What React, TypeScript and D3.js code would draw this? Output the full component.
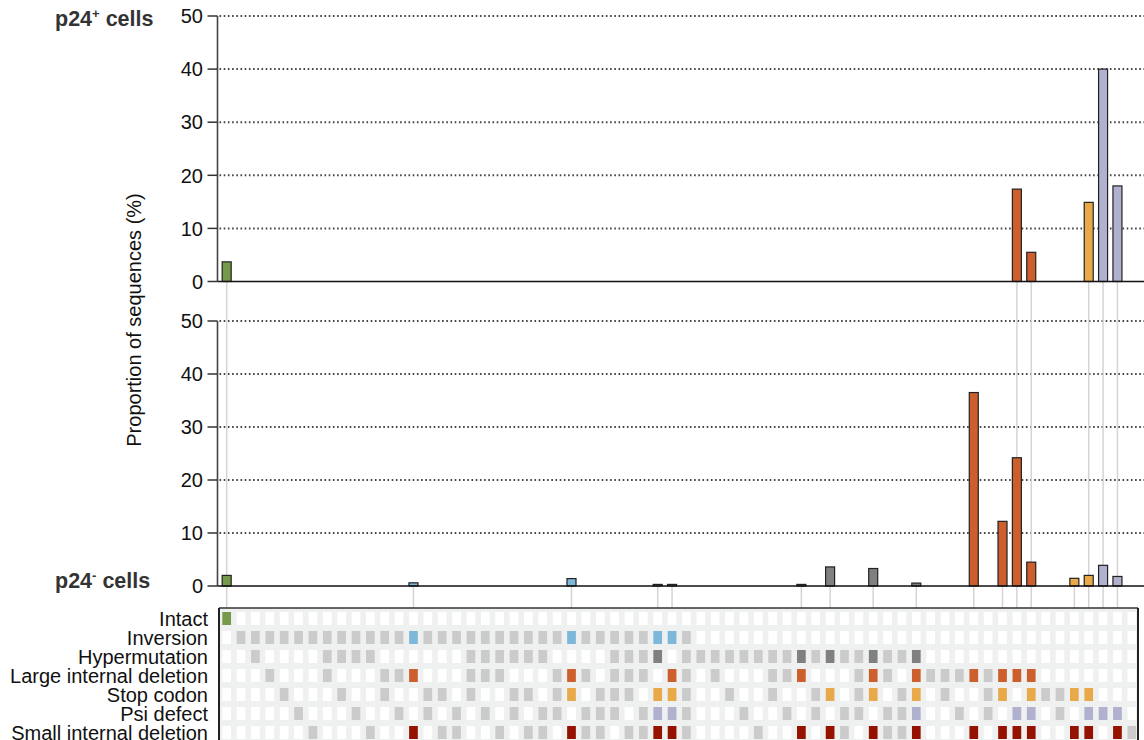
import React from "react";
import * as d3 from "d3";

const rowLabels = [
  "Intact",
  "Inversion",
  "Hypermutation",
  "Large internal deletion",
  "Stop codon",
  "Psi defect",
  "Small internal deletion",
];
const rowColors = ["#76994a", "#7db7d9", "#808080", "#cc5f2d", "#e8a94a", "#b0b1cf", "#951100"];

// 0 = absent (white), 1 = present (grey), 2 = present in highlighted cluster (coloured)
const intactRow = [
  2,0,0,0,0,0,0,0,0,0,0,0,0,0,0,0, 0,0,0,0,0,0,0,0,0,0,0,0,0,0,0,0,
  0,0,0,0,0,0,0,0,0,0,0,0,0,0,0,0, 0,0,0,0,0,0,0,0,0,0,0,0,0,0,0,0,
];
const inversionRow = [
  0,1,1,1,1,1,1,1,1,1,1,1,1,2,1,1, 1,1,1,1,1,1,1,1,2,1,1,1,1,1,2,2,
  1,0,0,0,0,0,0,0,0,0,0,0,0,0,0,0, 0,0,0,0,0,0,0,0,0,0,0,0,0,0,0,0,
];
const hypermutationRow = [
  0,0,1,0,0,0,0,1,1,1,1,0,0,0,0,0, 0,1,1,1,1,1,1,0,0,0,0,1,1,1,2,0,
  1,1,1,1,1,1,1,1,2,1,2,1,1,2,1,1, 2,0,0,0,0,0,0,0,0,0,0,0,0,0,0,0,
];
const largeDeletionRow = [
  0,0,0,1,0,0,0,1,0,0,0,1,1,2,0,0, 0,1,1,1,0,0,0,1,2,1,0,1,1,1,0,2,
  1,0,1,0,0,0,1,1,2,0,0,0,1,2,1,0, 2,1,1,1,2,1,2,2,2,0,0,0,0,0,0,0,
];
const stopCodonRow = [
  0,0,0,0,1,0,0,0,1,0,0,1,0,0,1,1, 0,1,0,0,1,1,0,1,2,0,1,1,1,0,2,2,
  1,0,0,1,0,0,1,0,0,1,2,0,1,2,0,1, 2,0,1,0,0,1,2,0,2,1,1,2,2,0,0,0,
];
const psiDefectRow = [
  0,0,0,0,0,1,0,0,0,1,0,0,1,0,1,0, 1,0,1,0,1,0,1,1,0,1,1,1,0,1,2,2,
  1,0,0,0,1,0,0,1,0,1,0,1,1,0,1,1, 2,0,0,1,0,1,0,2,2,0,1,0,2,2,2,0,
];
const smallDeletionRow = [
  0,0,0,0,0,0,1,0,0,0,1,0,0,2,0,1, 1,0,0,1,0,1,1,0,2,1,1,0,1,1,2,2,
  1,0,0,0,0,1,0,0,2,0,2,1,0,2,1,1, 2,0,0,0,2,0,2,2,2,0,0,2,2,0,2,1,
];
const matrixRows = [intactRow, inversionRow, hypermutationRow, largeDeletionRow, stopCodonRow, psiDefectRow, smallDeletionRow];

const barColumns = [0, 13, 24, 30, 31, 40, 42, 45, 48, 52, 54, 55, 56, 59, 60, 61, 62];
const p24PosValues = [3.7, 0, 0, 0, 0, 0, 0, 0, 0, 0, 0, 17.4, 5.5, 0, 14.9, 40.0, 18.0];
const p24NegValues = [2.0, 0.6, 1.4, 0.3, 0.3, 0.3, 3.6, 3.3, 0.55, 36.5, 12.2, 24.2, 4.5, 1.45, 2.0, 3.9, 1.8];
const yTicks = [0, 10, 20, 30, 40, 50];

const W = 1144;
const H = 740;
const FONT = "'Liberation Sans', Arial, Helvetica, sans-serif";

export default function App() {
  const nCols = intactRow.length;
  const x = d3.scaleBand<number>().domain(d3.range(nCols)).range([219.5, 1139]);
  const step = x.step();
  const cx = (i: number) => (x(i) as number) + step / 2;
  const barW = 9;
  const cellW = 8.7;
  const cellH = 13;
  const rowY = d3.scalePoint<number>().domain(d3.range(7)).range([612, 612 + 19 * 6]);

  const yTop = d3.scaleLinear().domain([0, 50]).range([281.5, 16]);
  const yBot = d3.scaleLinear().domain([0, 50]).range([586, 321]);
  const axisX = 217.5;
  const matTop = 608;

  // bar colour = first coloured matrix row of that column
  const barColor = (col: number) => {
    for (let r = 0; r < matrixRows.length; r++) if (matrixRows[r][col] === 2) return rowColors[r];
    return "#999";
  };

  const panels = [
    { y: yTop, values: p24PosValues },
    { y: yBot, values: p24NegValues },
  ];

  return (
    <svg width={W} height={H} style={{ position: "absolute", left: 0, top: 0, background: "#fff" }} fontFamily={FONT}>
      {/* gridlines */}
      {panels.map((p, pi) =>
        yTicks.filter((t) => t > 0).map((t) => (
          <line key={`g${pi}-${t}`} x1={axisX + 2} x2={W} y1={p.y(t)} y2={p.y(t)} stroke="#444" strokeWidth={2} strokeDasharray="1.6,2.6" />
        ))
      )}
      {/* connector lines */}
      {barColumns.map((c, i) => {
        const top = p24PosValues[i] > 0 ? yTop(0) : yBot(0);
        return <line key={`c${c}`} x1={cx(c)} x2={cx(c)} y1={top} y2={matTop} stroke="#d4d4d4" strokeWidth={1.5} />;
      })}
      {/* bars */}
      {panels.map((p, pi) =>
        barColumns.map((c, i) =>
          p.values[i] > 0 ? (
            <rect key={`b${pi}-${c}`} x={cx(c) - barW / 2} y={p.y(p.values[i])} width={barW} height={p.y(0) - p.y(p.values[i])}
              fill={barColor(c)} stroke="#222" strokeWidth={1.2} />
          ) : null
        )
      )}
      {/* axes */}
      {panels.map((p, pi) => (
        <g key={`ax${pi}`}>
          <line x1={axisX} x2={axisX} y1={p.y(50)} y2={p.y(0)} stroke="#444" strokeWidth={1.6} />
          <line x1={axisX} x2={W} y1={p.y(0)} y2={p.y(0)} stroke="#111" strokeWidth={1.5} />
          {yTicks.map((t) => (
            <g key={t}>
              <line x1={axisX - 10} x2={axisX} y1={p.y(t)} y2={p.y(t)} stroke="#333" strokeWidth={1.5} />
              <text x={203} y={p.y(t)} dy="0.36em" textAnchor="end" fontSize={20} fill="#111">{t}</text>
            </g>
          ))}
        </g>
      ))}
      {/* titles */}
      <text x={55} y={26} fontSize={21.5} fontWeight="bold" fill="#333">
        p24<tspan fontSize={13} dy={-8}>+</tspan><tspan dy={8}> cells</tspan>
      </text>
      <text x={55} y={588} fontSize={21.5} fontWeight="bold" fill="#333">
        p24<tspan fontSize={13} dy={-8}>-</tspan><tspan dy={8}> cells</tspan>
      </text>
      <text transform={`translate(141,320) rotate(-90)`} textAnchor="middle" fontSize={20} fill="#111">
        Proportion of sequences (%)
      </text>
      {/* matrix */}
      <rect x={219} y={matTop} width={1138 - 219} height={H - matTop + 10} fill="#eff0f0" />
      {matrixRows.map((row, r) =>
        row.map((v, c) => (
          <rect key={`m${r}-${c}`} x={cx(c) - cellW / 2} y={rowY(r) as number} width={cellW} height={cellH}
            fill={v === 2 ? rowColors[r] : v === 1 ? "#cbcbcb" : "#ffffff"} />
        ))
      )}
      <line x1={219} x2={1138} y1={matTop} y2={matTop} stroke="#333" strokeWidth={1.5} />
      <line x1={219} x2={219} y1={matTop} y2={H} stroke="#222" strokeWidth={2} />
      <line x1={1138} x2={1138} y1={matTop} y2={H} stroke="#222" strokeWidth={2} />
      {rowLabels.map((l, r) => (
        <text key={l} x={208} y={(rowY(r) as number) + cellH / 2} dy="0.36em" textAnchor="end" fontSize={20} fill="#111">{l}</text>
      ))}
    </svg>
  );
}
